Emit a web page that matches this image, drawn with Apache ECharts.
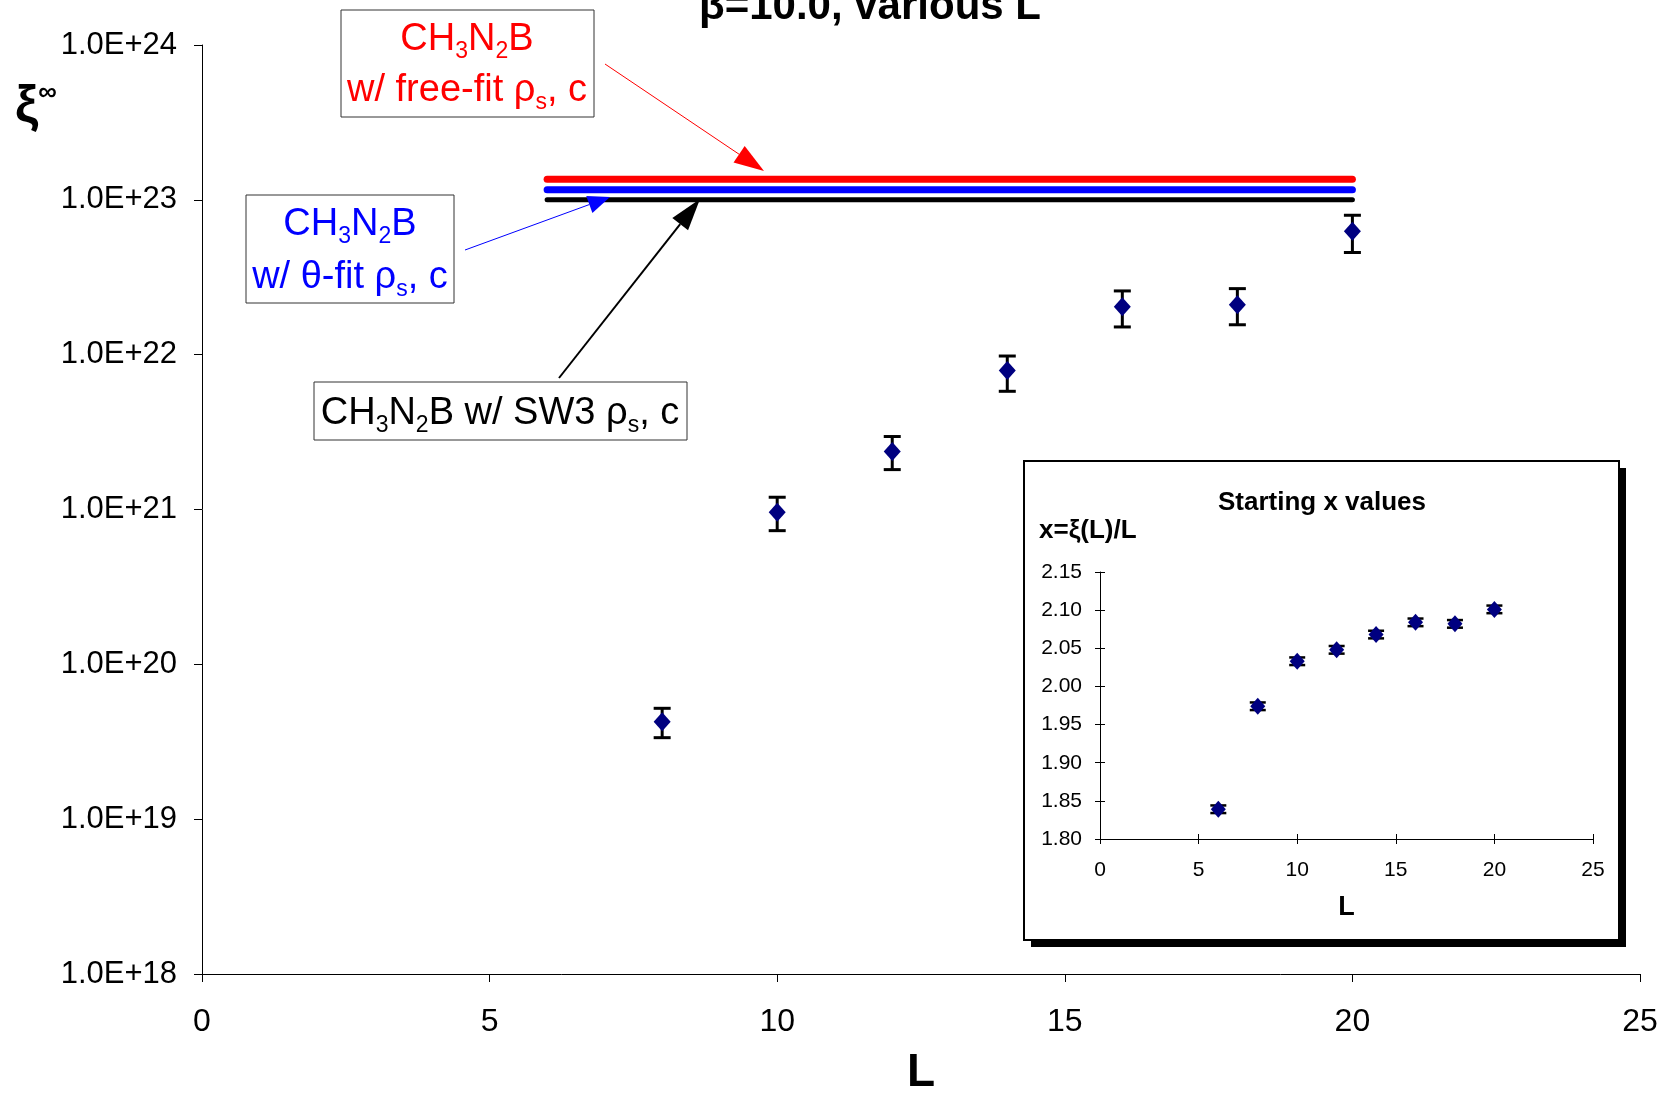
<!DOCTYPE html>
<html><head><meta charset="utf-8">
<script src="https://cdn.jsdelivr.net/npm/echarts@6/dist/echarts.min.js"></script>
<style>html,body{margin:0;padding:0;background:#fff;overflow:hidden}#c{width:1669px;height:1093px}</style>
</head><body><div id="c"></div>
<script>
// ---- data ----
const mainL = [8, 10, 12, 14, 16, 18, 20];
const xiInf = [4.25e19, 9.6e20, 2.37e21, 7.9e21, 2.04e22, 2.1e22, 6.27e22];
const xiInfHigh = [5.2e19, 1.2e21, 2.96e21, 9.8e21, 2.58e22, 2.67e22, 7.95e22];
const xiInfLow = [3.36e19, 7.3e20, 1.81e21, 5.8e21, 1.51e22, 1.56e22, 4.57e22];
const fitL = [6, 20];
const fitFreeFit = 1.36e23;
const fitThetaFit = 1.16e23;
const fitSW3 = 1.0e23;
const insetL = [6, 8, 10, 12, 14, 16, 18, 20];
const insetX = [1.839, 1.974, 2.033, 2.048, 2.068, 2.084, 2.082, 2.101];
const insetXErr = [0.005, 0.005, 0.005, 0.005, 0.005, 0.005, 0.005, 0.005];

const FONT = "'Liberation Sans', Arial, sans-serif";
const chart = echarts.init(document.getElementById('c'), null, {renderer: 'canvas'});

function arrow(x1, y1, x2, y2, color, width, headLen, headHalf) {
  const dx = x2 - x1, dy = y2 - y1, len = Math.hypot(dx, dy);
  const ux = dx / len, uy = dy / len;
  const bx = x2 - ux * headLen, by = y2 - uy * headLen;
  const px = -uy, py = ux;
  return [
    {type: 'line', z: 30, shape: {x1, y1, x2: bx, y2: by}, style: {stroke: color, lineWidth: width}},
    {type: 'polygon', z: 30, shape: {points: [[x2, y2], [bx + px * headHalf, by + py * headHalf], [bx - px * headHalf, by - py * headHalf]]}, style: {fill: color}}
  ];
}
function richStyles(color) {
  return {
    m: {fontSize: 38, fontFamily: FONT, fill: color, lineHeight: 46},
    s: {fontSize: 23, fontFamily: FONT, fill: color, verticalAlign: 'bottom'}
  };
}
function label(text, x, y, color) {
  return {type: 'text', z: 21, x, y, style: {text, rich: richStyles(color), fill: color, align: 'center', verticalAlign: 'middle'}};
}
function box(x, y, w, h) {
  return {type: 'rect', z: 20, shape: {x, y, width: w, height: h}, style: {fill: '#fff', stroke: '#333', lineWidth: 1}};
}

const graphics = [
  // title (partly cut at top)
  {type: 'text', z: 20, x: 870, y: 7, style: {text: 'β=10.0, various L', font: 'bold 42px ' + FONT, fill: '#000', align: 'center', verticalAlign: 'middle'}},
  // y axis name
  {type: 'text', z: 20, x: 15, y: 108, style: {text: '{a|ξ}{b|∞}', rich: {a: {fontSize: 52, fontWeight: 'bold', fontFamily: FONT, fill: '#000', lineHeight: 56}, b: {fontSize: 26, fontWeight: 'bold', fontFamily: FONT, fill: '#000', verticalAlign: 'top'}}, align: 'left', verticalAlign: 'middle'}},
  // inset frame with shadow
  {type: 'rect', z: 1, shape: {x: 1031, y: 468, width: 595, height: 479}, style: {fill: '#000'}},
  {type: 'rect', z: 1, shape: {x: 1024, y: 461, width: 595, height: 479}, style: {fill: '#fff', stroke: '#000', lineWidth: 2}},
  {type: 'text', z: 20, x: 1322, y: 503, style: {text: 'Starting x values', font: 'bold 26px ' + FONT, fill: '#000', align: 'center', verticalAlign: 'middle'}},
  {type: 'text', z: 20, x: 1039, y: 531, style: {text: 'x=ξ(L)/L', font: 'bold 26px ' + FONT, fill: '#000', align: 'left', verticalAlign: 'middle'}},
  // annotation boxes
  box(341, 10, 253, 107),
  label('{m|CH}{s|3}{m|N}{s|2}{m|B}', 467, 40, '#ff0000'),
  label('{m|w/ free-fit ρ}{s|s}{m|, c}', 467, 91, '#ff0000'),
  box(246, 195, 208, 108),
  label('{m|CH}{s|3}{m|N}{s|2}{m|B}', 350, 225, '#0000ff'),
  label('{m|w/ θ-fit ρ}{s|s}{m|, c}', 350, 278, '#0000ff'),
  box(314, 382, 373, 58),
  label('{m|CH}{s|3}{m|N}{s|2}{m|B w/ SW3 ρ}{s|s}{m|, c}', 500, 414, '#000000'),
  ...arrow(605, 64, 764, 171, '#ff0000', 1, 30, 10),
  ...arrow(465, 250, 610, 197, '#0000ff', 1, 22, 9),
  ...arrow(559, 378, 700, 199, '#000000', 2, 32, 10)
];

function errRender(hw, lw) {
  return function (params, api) {
    const x = api.value(0), lo = api.value(1), hi = api.value(2);
    const a = api.coord([x, lo]), b = api.coord([x, hi]);
    const st = {stroke: '#000', lineWidth: lw};
    return {type: 'group', children: [
      {type: 'line', shape: {x1: a[0], y1: a[1], x2: b[0], y2: b[1]}, style: st},
      {type: 'line', shape: {x1: a[0] - hw, y1: a[1], x2: a[0] + hw, y2: a[1]}, style: st},
      {type: 'line', shape: {x1: b[0] - hw, y1: b[1], x2: b[0] + hw, y2: b[1]}, style: st}
    ]};
  };
}
function fitLine(value, color, width) {
  return {type: 'line', xAxisIndex: 0, yAxisIndex: 0, data: fitL.map(l => [l, value]), showSymbol: false, symbol: 'none',
    lineStyle: {color, width, cap: 'round'}, silent: true, z: 2};
}

const axisLineBlack = {show: true, lineStyle: {color: '#000', width: 1}};
const tickStyle = {color: '#000', width: 1};
const option = {
  animation: false,
  backgroundColor: '#fff',
  grid: [
    {left: 202, right: 29, top: 45, bottom: 119, outerBoundsMode: 'none', containLabel: false},
    {left: 1100, right: 76, top: 572, bottom: 254, outerBoundsMode: 'none', containLabel: false},
    {left: 1100, right: 76, top: 572, bottom: 254, outerBoundsMode: 'none', containLabel: false}
  ],
  xAxis: [
    {gridIndex: 0, type: 'value', min: 0, max: 25, interval: 5, axisLine: axisLineBlack,
      axisTick: {show: true, inside: false, length: 8, lineStyle: tickStyle}, splitLine: {show: false},
      axisLabel: {fontSize: 32, fontFamily: FONT, color: '#000', margin: 32},
      name: 'L', nameLocation: 'middle', nameGap: 76, nameTextStyle: {fontSize: 46, fontWeight: 'bold', fontFamily: FONT, color: '#000'}},
    {gridIndex: 1, type: 'value', min: 0, max: 25, interval: 5, z: 10, axisLine: axisLineBlack,
      axisTick: {show: true, inside: false, length: 5, lineStyle: tickStyle}, splitLine: {show: false},
      axisLabel: {fontSize: 21, fontFamily: FONT, color: '#000', margin: 21},
      name: 'L', nameLocation: 'middle', nameGap: 55, nameTextStyle: {fontSize: 27, fontWeight: 'bold', fontFamily: FONT, color: '#000'}},
    {gridIndex: 2, type: 'value', min: 0, max: 25, interval: 5, z: 10,
      axisLine: {show: false}, axisLabel: {show: false}, splitLine: {show: false},
      axisTick: {show: true, inside: true, length: 5, lineStyle: tickStyle}}
  ],
  yAxis: [
    {gridIndex: 0, type: 'log', logBase: 10, min: 1e18, max: 1e24, axisLine: axisLineBlack,
      axisTick: {show: true, inside: false, length: 8, lineStyle: tickStyle}, splitLine: {show: false}, minorTick: {show: false},
      axisLabel: {fontSize: 31, fontFamily: FONT, color: '#000', margin: 25, formatter: v => Number(v).toExponential(1).toUpperCase()}},
    {gridIndex: 1, type: 'value', min: 1.8, max: 2.15, interval: 0.05, z: 10, axisLine: axisLineBlack,
      axisTick: {show: true, inside: false, length: 5, lineStyle: tickStyle}, splitLine: {show: false},
      axisLabel: {fontSize: 21, fontFamily: FONT, color: '#000', margin: 18, formatter: v => Number(v).toFixed(2)}},
    {gridIndex: 2, type: 'value', min: 1.8, max: 2.15, interval: 0.05, z: 10,
      axisLine: {show: false}, axisLabel: {show: false}, splitLine: {show: false},
      axisTick: {show: true, inside: true, length: 5, lineStyle: tickStyle}}
  ],
  series: [
    fitLine(fitFreeFit, '#ff0000', 7),
    fitLine(fitThetaFit, '#0000ff', 7),
    fitLine(fitSW3, '#000000', 5),
    {type: 'custom', xAxisIndex: 0, yAxisIndex: 0, z: 3, silent: true,
      data: mainL.map((l, i) => [l, xiInfLow[i], xiInfHigh[i]]), encode: {x: 0, y: [1, 2]},
      renderItem: errRender(8.5, 3)},
    {type: 'scatter', xAxisIndex: 0, yAxisIndex: 0, z: 4, symbol: 'diamond', symbolSize: [17, 19],
      itemStyle: {color: '#000080', opacity: 1}, data: mainL.map((l, i) => [l, xiInf[i]])},
    {type: 'custom', xAxisIndex: 1, yAxisIndex: 1, z: 9, silent: true,
      data: insetL.map((l, i) => [l, insetX[i] - insetXErr[i], insetX[i] + insetXErr[i]]), encode: {x: 0, y: [1, 2]},
      renderItem: errRender(8, 2.5)},
    {type: 'scatter', xAxisIndex: 1, yAxisIndex: 1, z: 10, symbol: 'diamond', symbolSize: [15, 17],
      itemStyle: {color: '#000080', opacity: 1}, data: insetL.map((l, i) => [l, insetX[i]])}
  ],
  graphic: graphics
};
chart.setOption(option);
</script></body></html>
